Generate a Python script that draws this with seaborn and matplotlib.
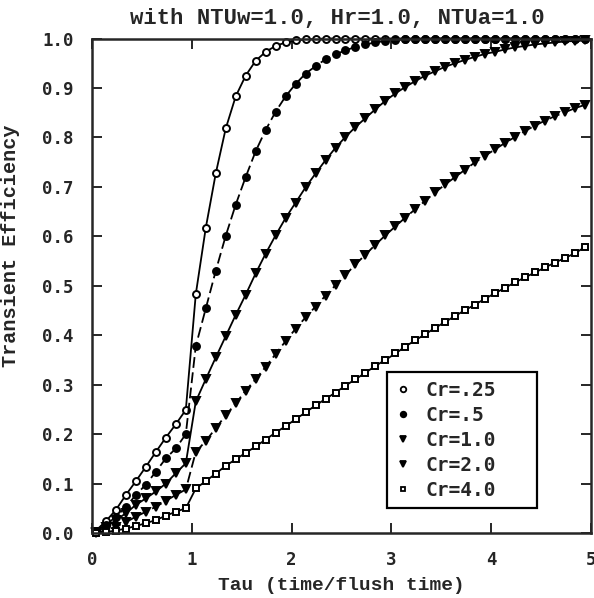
import matplotlib
matplotlib.use("Agg")
from matplotlib import pyplot as plt
from matplotlib.lines import Line2D
import seaborn as sns
import pandas as pd

# tau sample points (time / flush time)
tau = [0.04, 0.14, 0.24, 0.34, 0.44, 0.54, 0.64, 0.74, 0.84, 0.94,
       1.04, 1.14, 1.24, 1.34, 1.44, 1.54, 1.64, 1.74, 1.84, 1.94,
       2.04, 2.14, 2.24, 2.34, 2.44, 2.54, 2.64, 2.74, 2.84, 2.94,
       3.04, 3.14, 3.24, 3.34, 3.44, 3.54, 3.64, 3.74, 3.84, 3.94,
       4.04, 4.14, 4.24, 4.34, 4.44, 4.54, 4.64, 4.74, 4.84, 4.94]

cr_025 = [0.005, 0.024, 0.047, 0.077, 0.105, 0.134, 0.164, 0.193, 0.220, 0.249,
          0.483, 0.617, 0.727, 0.818, 0.883, 0.925, 0.955, 0.973, 0.985, 0.992,
          0.996, 0.998, 0.999, 1.0, 1.0, 1.0, 1.0, 1.0, 1.0, 1.0,
          1.0, 1.0, 1.0, 1.0, 1.0, 1.0, 1.0, 1.0, 1.0, 1.0,
          1.0, 1.0, 1.0, 1.0, 1.0, 1.0, 1.0, 1.0, 1.0, 1.0]

cr_05 = [0.005, 0.016, 0.033, 0.053, 0.077, 0.098, 0.124, 0.151, 0.171, 0.200,
         0.378, 0.454, 0.530, 0.601, 0.664, 0.720, 0.772, 0.815, 0.852, 0.883,
         0.908, 0.929, 0.944, 0.958, 0.968, 0.976, 0.983, 0.988, 0.992, 0.995,
         0.997, 0.998, 0.999, 0.999, 1.0, 1.0, 1.0, 1.0, 1.0, 1.0,
         1.0, 1.0, 1.0, 1.0, 1.0, 1.0, 1.0, 1.0, 1.0, 1.0]

cr_10 = [0.003, 0.012, 0.026, 0.040, 0.057, 0.070, 0.084, 0.100, 0.121, 0.141,
         0.266, 0.311, 0.355, 0.398, 0.441, 0.482, 0.525, 0.565, 0.602, 0.637,
         0.668, 0.699, 0.727, 0.754, 0.779, 0.801, 0.821, 0.839, 0.857, 0.874,
         0.889, 0.902, 0.914, 0.925, 0.934, 0.943, 0.950, 0.957, 0.963, 0.969,
         0.973, 0.978, 0.982, 0.985, 0.988, 0.990, 0.992, 0.994, 0.995, 0.996]

cr_20 = [0.0, 0.006, 0.013, 0.022, 0.033, 0.043, 0.053, 0.065, 0.077, 0.088,
         0.164, 0.186, 0.212, 0.238, 0.262, 0.288, 0.311, 0.336, 0.362, 0.388,
         0.413, 0.436, 0.458, 0.480, 0.501, 0.522, 0.543, 0.563, 0.583, 0.602,
         0.620, 0.638, 0.655, 0.672, 0.689, 0.705, 0.720, 0.735, 0.750, 0.763,
         0.776, 0.789, 0.801, 0.813, 0.824, 0.834, 0.843, 0.851, 0.859, 0.866]

cr_40 = [0.0, 0.002, 0.005, 0.009, 0.014, 0.020, 0.026, 0.035, 0.043, 0.050,
         0.090, 0.105, 0.120, 0.136, 0.149, 0.162, 0.175, 0.189, 0.203, 0.216,
         0.230, 0.244, 0.258, 0.271, 0.284, 0.298, 0.311, 0.324, 0.338, 0.350,
         0.363, 0.377, 0.390, 0.402, 0.415, 0.427, 0.439, 0.451, 0.462, 0.474,
         0.485, 0.496, 0.507, 0.517, 0.527, 0.537, 0.547, 0.556, 0.566, 0.578]

labels = ["Cr=.25", "Cr=.5", "Cr=1.0", "Cr=2.0", "Cr=4.0"]
series = [cr_025, cr_05, cr_10, cr_20, cr_40]

# marker, face colour, line style, marker size
styles = [
    ("o", "white", "-", 5),
    ("o", "black", (0, (6, 2.5)), 5),
    ("v", "black", "-", 5.5),
    ("v", "black", (0, (6, 2.5)), 5.5),
    ("s", "white", "-", 4.2),
]

sns.set_style("ticks")
plt.rcParams["font.family"] = ["Liberation Mono", "DejaVu Sans Mono"]
plt.rcParams["font.weight"] = "bold"

fig = plt.figure(figsize=(5.94, 5.98), dpi=100)
ax = fig.add_axes([92 / 594, 1 - 533 / 598, 499 / 594, 494.5 / 598])

for lab, vals, (mk, fc, ls, ms) in zip(labels, series, styles):
    df = pd.DataFrame({"tau": tau, "eff": vals})
    sns.lineplot(data=df, x="tau", y="eff", ax=ax, estimator=None, sort=False,
                 color="black", linewidth=1.3, linestyle=ls, marker=mk,
                 markersize=ms, markerfacecolor=fc, markeredgecolor="black",
                 markeredgewidth=1.4, clip_on=False)

ax.set_xlim(0, 5)
ax.set_ylim(0, 1.0)
ax.set_xticks([0, 1, 2, 3, 4, 5])
ax.set_yticks([i / 10 for i in range(11)])
ax.set_yticklabels(["%.1f" % (i / 10) for i in range(11)])
ax.tick_params(axis="both", direction="in", length=7, width=1.4,
               top=True, right=True, labelsize=12.5)
ax.tick_params(axis="y", pad=13)
ax.tick_params(axis="x", pad=13)
for lbl in ax.get_xticklabels() + ax.get_yticklabels():
    lbl.set_family("DejaVu Sans Mono")
    lbl.set_fontweight("bold")
for sp in ax.spines.values():
    sp.set_linewidth(1.8)
    sp.set_visible(True)

ax.set_xlabel("Tau (time/flush time)", fontsize=14, fontweight="bold", labelpad=6)
ax.set_ylabel("Transient Efficiency", fontsize=14.5, fontweight="bold")
ax.yaxis.set_label_coords(-0.145, 0.58)

fig.text(337 / 594, 1 - 18 / 598, "with NTUw=1.0, Hr=1.0, NTUa=1.0",
         ha="center", va="center", fontsize=16, fontweight="bold")

handles = [Line2D([], [], linestyle="none", marker=mk, markersize=ms * 0.8,
                  markerfacecolor=fc, markeredgecolor="black", markeredgewidth=1.3)
           for (mk, fc, ls, ms) in styles]
leg = ax.legend(handles, labels, loc="lower left",
                bbox_to_anchor=(0.591, 0.05, 0.301, 0.284), mode="expand",
                frameon=True, fancybox=False, edgecolor="black", framealpha=1,
                fontsize=14, handlelength=0.8, handletextpad=0.75,
                labelspacing=0.3, borderpad=0.45, borderaxespad=0)
leg.get_frame().set_linewidth(1.6)
for t in leg.get_texts():
    t.set_family("DejaVu Sans Mono")
    t.set_fontweight("bold")

fig.savefig("out.png", dpi=100)
